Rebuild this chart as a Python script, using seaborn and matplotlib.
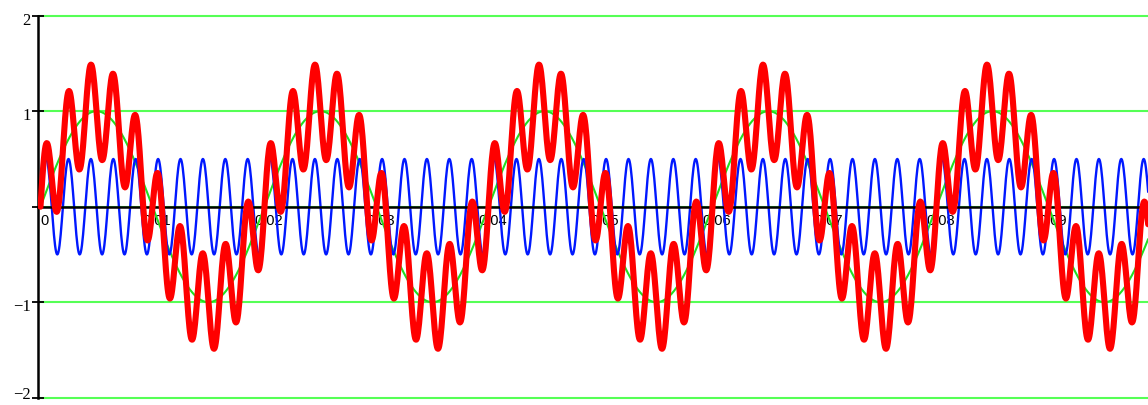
import numpy as np
import pandas as pd
import matplotlib
matplotlib.use("Agg")
import matplotlib.pyplot as plt
import matplotlib.transforms as mtransforms
import seaborn as sns

# --- chart values ---
amplitudes = [1.0, 0.5]          # fundamental, harmonic
frequencies_hz = [50, 500]
t_end = 0.1
n_samples = 2001

x_ticks = [0.0, 0.01, 0.02, 0.03, 0.04, 0.05, 0.06, 0.07, 0.08, 0.09]
x_tick_labels = ["0", "0.01", "0.02", "0.03", "0.04", "0.05", "0.06", "0.07", "0.08", "0.09"]
y_ticks = [-2, -1, 0, 1, 2]
y_tick_labels = ["\u22122", "\u22121", "", "1", "2"]

# --- build the waveforms ---
t = np.linspace(0, t_end, n_samples)
fundamental = amplitudes[0] * np.sin(2 * np.pi * frequencies_hz[0] * t)
harmonic = amplitudes[1] * np.sin(2 * np.pi * frequencies_hz[1] * t)
df = pd.DataFrame({"t": t, "fundamental": fundamental,
                   "harmonic": harmonic, "sum": fundamental + harmonic})

sns.set_style("white")

fig = plt.figure(figsize=(11.48, 4.05), dpi=100)
ax = fig.add_axes([37.5 / 1148, 2.5 / 405, 1 - 37.5 / 1148, 393.5 / 405])

# horizontal grid
ax.set_axisbelow(True)
ax.grid(axis="y", color="#55ff55", linewidth=1.5, zorder=0.5)
ax.grid(axis="x", visible=False)

sns.lineplot(data=df, x="t", y="fundamental", ax=ax, color="#22dd22",
             linewidth=1.5, errorbar=None, zorder=1.5)
sns.lineplot(data=df, x="t", y="harmonic", ax=ax, color="#0018ff",
             linewidth=1.7, errorbar=None, zorder=2)
sns.lineplot(data=df, x="t", y="sum", ax=ax, color="#ff0000",
             linewidth=4.4, errorbar=None, zorder=3)

ax.set_xlim((37.5 - 40.5) / 11200, (1148 - 40.5) / 11200)
ax.set_ylim(-2.05, 2.07)
ax.set_xlabel("")
ax.set_ylabel("")

# Mathcad style axes: x axis through zero, y axis on the left
for side in ["top", "right"]:
    ax.spines[side].set_visible(False)
ax.spines["bottom"].set_position(("data", 0))
ax.spines["bottom"].set_color("black")
ax.spines["bottom"].set_linewidth(1.8)
ax.spines["bottom"].set_zorder(2.5)
ax.spines["bottom"].set_bounds(ax.get_xlim()[0], 0.0981)
ax.spines["left"].set_color("black")
ax.spines["left"].set_linewidth(1.8)
ax.spines["left"].set_bounds(-2, 2)

ax.set_xticks(x_ticks)
ax.set_xticklabels(x_tick_labels, fontfamily="Liberation Sans", fontsize=10.5)
ax.set_yticks(y_ticks)
ax.set_yticklabels(y_tick_labels, fontfamily="Liberation Serif", fontsize=12)
ax.tick_params(axis="x", direction="in", length=4.5, width=1.2, pad=5,
               color="black", labelcolor="black", bottom=True)
ax.tick_params(axis="y", direction="inout", length=8, width=1.3, pad=1,
               color="black", labelcolor="black", left=True)

# nudge labels like the reference (x labels a bit right, y labels a bit low)
shift_x = mtransforms.ScaledTranslation(4 / 100, 0, fig.dpi_scale_trans)
shift_y = mtransforms.ScaledTranslation(0, -3 / 100, fig.dpi_scale_trans)
shift_bottom = mtransforms.ScaledTranslation(0, 5 / 100, fig.dpi_scale_trans)
for lab in ax.get_xticklabels():
    lab.set_transform(lab.get_transform() + shift_x)
for lab in ax.get_yticklabels():
    if lab.get_text() == "\u22122":
        # keep the lowest label inside the figure
        lab.set_transform(lab.get_transform() + shift_bottom)
    else:
        lab.set_transform(lab.get_transform() + shift_y)

fig.savefig("out.png", dpi=100)
